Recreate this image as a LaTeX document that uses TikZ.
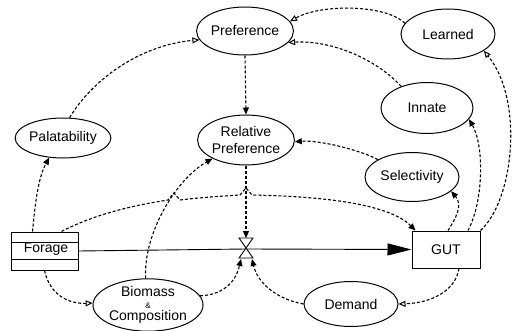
\documentclass[tikz,border=0pt]{standalone}
\usepackage{fontspec}
\setmainfont{Liberation Sans}
\usetikzlibrary{arrows.meta,shapes.geometric,calc}
\begin{document}
\begin{tikzpicture}[x=1pt,y=-1pt,
  ell/.style={draw, ellipse, line width=1pt, inner sep=0pt, align=center, font=\fontsize{14}{17}\selectfont},
  box/.style={draw, rectangle, line width=1pt, inner sep=0pt, font=\fontsize{14}{17}\selectfont},
  link/.style={line width=1.1pt, dash pattern=on 3pt off 2pt, -{Triangle[length=7pt,width=6pt]}},
  olink/.style={line width=1.1pt, dash pattern=on 3pt off 2pt, -{Triangle[open,length=7pt,width=6pt,line width=1pt]}},
  flow/.style={line width=0.9pt},
  ]
\useasboundingbox (0,0) rectangle (513,331);
% nodes
\node[ell, minimum width=94pt, minimum height=48pt] (pref) at (245,31) {Preference};
\node[ell, minimum width=94pt, minimum height=50pt] (learned) at (448,34) {Learned};
\node[ell, minimum width=92pt, minimum height=51pt] (innate) at (427,108) {Innate};
\node[ell, minimum width=94pt, minimum height=50pt] (relpref) at (246,140) {Relative\\Preference};
\node[ell, minimum width=84pt, minimum height=40pt] (palat) at (63,138) {Palatability};
\node[ell, minimum width=94pt, minimum height=49pt] (select) at (412,177) {Selectivity};
\node[ell, minimum width=94pt, minimum height=45pt] (demand) at (351,304) {Demand};
\node[ell, minimum width=107pt, minimum height=50pt, font=\fontsize{14}{12}\selectfont] (bio) at (148,305) {Biomass\\{\fontsize{8}{8}\selectfont\&}\\Composition};
\node[box, minimum width=67pt, minimum height=38pt] (forage) at (44.5,251) {};
\node[font=\fontsize{14}{17}\selectfont, inner sep=0pt] (foragetxt) at (46,249) {Forage};
\draw[line width=0.8pt] ([yshift=-11pt]forage.north west) -- ([yshift=-11pt]forage.north east);
\draw[line width=0.8pt] ([yshift=11pt]forage.south west) -- ([yshift=11pt]forage.south east);
\node[box, minimum width=68pt, minimum height=37pt] (gut) at (446,249.5) {GUT};
% valve
\coordinate (valve) at (246,249);
\coordinate (vt) at (246,238);
\coordinate (vbl) at (241,259);
\coordinate (vbr) at (252,259);
% flow
\draw[flow, -{Triangle[length=24pt,width=12pt]}] (forage.east) -- (valve) -- (gut.west);
\draw[line width=0.9pt, fill=white] (239,238) -- (253,238) -- (239,258) -- (253,258) -- cycle;
% connectors
\draw[olink] (learned.166) .. controls (385,4) and (320,4) .. (pref.12);
\draw[olink] (innate.140) .. controls (375,58) and (330,40) .. (pref.345);
\draw[olink] (palat.72) .. controls (92,80) and (140,45) .. (pref.191);
\draw[link] (pref.south) -- (relpref.north);
\draw[link] (select.153) .. controls (360,150) and (320,140) .. (relpref.358);
\draw[link] (relpref.south) -- (vt);
\draw[link] ([xshift=22pt]forage.north west) .. controls (35,205) and (38,178) .. (palat.235);
\draw[link] ([xshift=51pt]forage.north west) .. controls (95,214) and (135,205) .. (168,200) -- (174,193) -- (180,200)
  .. controls (205,197) and (225,196) .. (240,195) -- (246,188) -- (252,195)
  .. controls (300,196) and (385,200) .. ([xshift=4pt]gut.north west);
\draw[olink] (forage.south) .. controls (50,296) and (70,304) .. (bio.178);
\draw[link] (bio.95) .. controls (143,235) and (175,180) .. (relpref.209);
\draw[link] (bio.10) .. controls (220,295) and (235,285) .. (vbl);
\draw[link] (demand.west) .. controls (280,300) and (258,285) .. (vbr);
\draw[olink] ([xshift=13pt]gut.south) .. controls (455,292) and (430,303) .. (demand.east);
\draw[link] ([xshift=2pt]gut.north) .. controls (456,218) and (463,205) .. (select.340);
\draw[link] ([xshift=22pt]gut.north) .. controls (484,200) and (484,145) .. (innate.345);
\draw[olink] (gut.north east) .. controls (514,200) and (524,100) .. (learned.335);
\end{tikzpicture}
\end{document}
